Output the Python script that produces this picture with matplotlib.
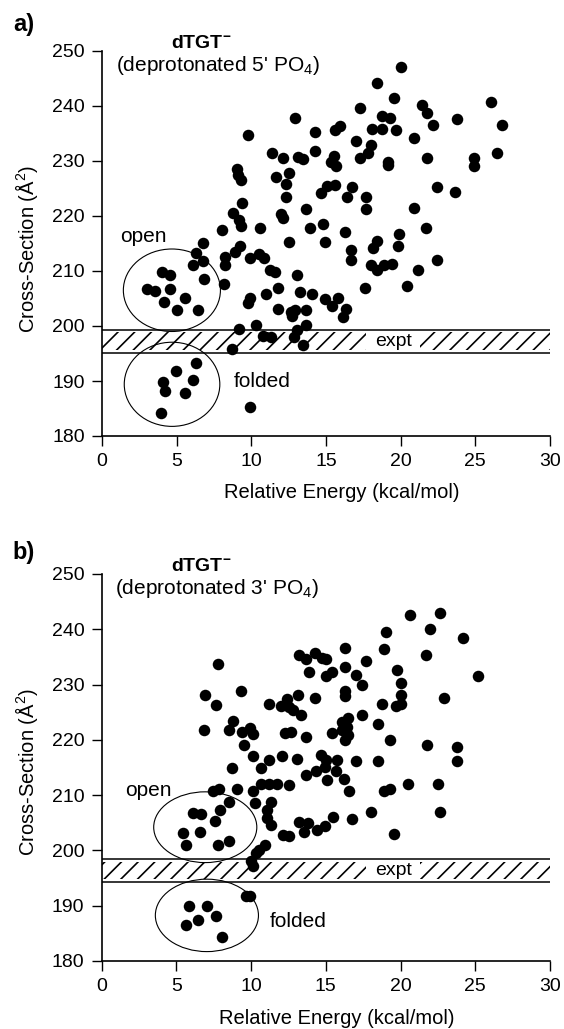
import matplotlib
matplotlib.use("Agg")
import matplotlib.pyplot as plt
from matplotlib.patches import Ellipse

# *** DATA
# panel a) deprotonated 5' PO4
A_X = [12.91, 9.79, 14.27, 11.37, 12.13, 13.13, 13.47, 14.27, 15.35,
       9.01, 9.12, 9.28, 11.62, 12.53, 12.35, 15.07, 14.65, 12.29, 9.38, 13.65,
       8.74, 12.02, 12.13, 9.16, 9.34, 8.05, 10.57, 13.91, 14.8,
       6.78, 12.53, 14.95, 6.29, 6.78, 6.07, 8.27, 8.27, 8.9, 9.23, 9.9, 10.5,
       10.84, 11.24, 11.57, 13.06, 6.82, 8.18, 4.03, 4.55, 3.03, 3.55, 4.55,
       5.55, 4.15, 5.04, 6.4, 11.79, 10.95, 13.29, 14.03, 14.92, 15.4, 9.94,
       9.79, 11.79, 12.64, 12.91, 13.69, 12.73, 13.69, 10.28, 9.16, 13.06,
       10.79, 11.35, 12.84, 13.47, 8.68,
       4.95, 6.29, 4.06, 6.11, 4.21, 5.55, 3.93, 9.94,
       20.0, 18.39, 19.53, 17.26, 21.4, 21.79, 26.07, 18.75, 19.26, 23.79,
       22.16, 26.8, 15.92, 15.63, 18.1, 18.77, 19.67, 20.92, 17.04, 18.02,
       17.79, 15.52, 15.65, 17.26, 19.15, 19.17, 21.79, 24.93, 24.93, 26.44,
       15.59, 16.77, 16.41, 17.66, 17.66, 22.43, 23.66, 20.92, 16.3, 19.89, 21.67,
       18.42, 18.15, 19.82, 16.66, 16.66, 22.43, 18.04, 18.44, 18.86, 19.44,
       21.16, 17.59, 20.42, 15.81, 16.32, 16.14]
A_Y = [237.9, 234.8, 235.3, 231.5, 230.5, 230.8, 230.4, 231.9, 229.9,
       228.5, 227.5, 226.5, 227.1, 227.8, 225.9, 225.5, 224.1, 223.4, 222.3, 221.3,
       220.6, 220.4, 219.6, 219.3, 218.2, 217.5, 217.8, 217.8, 218.5,
       215.0, 215.3, 215.3, 213.3, 211.9, 211.0, 212.6, 211.0, 213.5, 214.5, 212.3, 213.1,
       212.3, 210.1, 209.9, 209.3, 208.5, 207.6, 209.9, 209.3, 206.8, 206.4, 206.8,
       205.1, 204.3, 202.9, 202.9, 206.9, 205.8, 206.2, 205.8, 204.9, 203.6, 205.0,
       204.1, 203.1, 202.6, 202.9, 202.9, 201.8, 200.2, 200.2, 199.4, 199.3,
       198.1, 197.95, 197.95, 196.5, 195.9,
       191.9, 193.2, 189.9, 190.1, 188.1, 187.8, 184.1, 185.3,
       247.1, 244.1, 241.4, 239.7, 240.1, 238.7, 240.7, 238.1, 237.9, 237.6,
       236.6, 236.6, 236.4, 235.6, 235.9, 235.9, 235.6, 234.2, 233.6, 232.9,
       231.5, 230.9, 229.1, 230.5, 229.8, 229.2, 230.5, 230.5, 229.1, 231.5,
       225.6, 225.3, 223.4, 223.4, 221.2, 225.3, 224.3, 221.5, 217.1, 216.7, 217.8,
       215.5, 214.1, 214.5, 213.8, 212.0, 212.0, 211.1, 210.2, 211.1, 211.3,
       210.2, 206.9, 207.2, 205.0, 203.1, 201.7]

# panel b) deprotonated 3' PO4
B_X = [7.77, 13.22, 14.27, 13.67, 14.77, 13.89, 15.0, 6.91, 9.29, 7.67, 13.15,
       14.27, 11.17, 12.4, 12.0, 12.55, 12.82, 13.33, 8.77, 6.82, 8.55, 9.4,
       9.93, 10.15, 12.29, 12.67, 13.67, 9.51, 10.15, 11.17, 12.04, 13.04,
       14.67, 15.04, 10.67, 8.71, 13.67, 14.33, 14.95,
       20.62, 22.62, 19.0, 22.0, 24.15, 16.27, 18.89, 21.73, 15.0, 17.67, 16.27,
       15.44, 17.0, 19.77, 25.15, 17.44, 20.0, 16.27, 16.27, 20.0, 22.89, 20.0,
       19.67, 18.77, 17.4, 16.51, 16.11, 16.44, 15.44, 16.11, 16.51, 16.29,
       18.51, 19.27, 21.78, 23.78, 23.78, 18.51, 17.0, 15.77, 15.7,
       15.1, 7.44, 7.84, 9.07, 10.15, 10.67, 11.22, 11.73, 12.55, 10.27, 11.33,
       8.55, 7.93, 6.11, 6.67, 7.55, 11.07, 11.07, 11.33, 13.22, 13.78, 13.55,
       14.44, 14.95, 12.11, 12.55, 5.44, 6.55, 5.67, 7.77, 8.55, 10.93, 10.55,
       10.33, 10.0, 10.11, 9.67, 9.93,
       5.82, 7.04, 6.44, 7.67, 5.67, 8.04,
       16.22, 16.55, 18.89, 19.29, 20.51, 22.51, 22.67, 18.0, 15.49, 16.73, 19.55]
B_Y = [233.7, 235.4, 235.8, 234.6, 234.8, 232.3, 231.6, 228.2, 228.9, 226.3, 228.2,
       227.6, 226.5, 227.3, 226.2, 226.0, 225.4, 224.5, 223.5, 221.8, 221.8, 221.5,
       222.1, 221.1, 221.2, 221.5, 220.5, 219.1, 217.0, 216.4, 217.0, 216.5,
       217.3, 216.4, 214.9, 214.9, 213.7, 214.3, 215.0,
       242.5, 242.9, 239.5, 240.1, 238.4, 236.7, 236.4, 235.4, 234.6, 234.3, 233.1,
       232.3, 231.7, 232.6, 231.6, 229.9, 230.2, 228.8, 228.0, 228.1, 227.5, 226.5,
       226.1, 226.5, 224.5, 223.9, 223.3, 222.4, 221.2, 221.8, 220.9, 220.0,
       222.8, 220.0, 219.1, 218.7, 216.2, 216.2, 216.1, 216.4, 214.4,
       212.7, 210.8, 211.2, 211.1, 210.8, 212.1, 212.1, 212.1, 211.8, 208.5, 208.8,
       208.8, 207.4, 206.8, 206.5, 205.4, 207.3, 205.8, 204.6, 205.2, 204.9, 203.4,
       203.7, 204.5, 202.8, 202.7, 203.1, 203.4, 201.0, 201.0, 201.7, 201.0, 200.1,
       199.5, 198.0, 197.1, 191.8, 191.8,
       190.0, 190.0, 187.4, 188.2, 186.5, 184.4,
       212.9, 210.8, 210.8, 211.1, 212.1, 212.1, 207.0, 207.0, 206.1, 205.6, 203.0]

# experimental cross-section bands (low, high)
A_EXPT = (195.0, 199.3)
B_EXPT = (194.2, 198.4)

# ellipses: (x centre, y centre, width, height)
A_OPEN = (4.68, 206.5, 6.5, 15.0)
A_FOLDED = (4.69, 189.4, 6.4, 15.3)
B_OPEN = (6.93, 204.2, 6.9, 12.8)
B_FOLDED = (7.04, 188.25, 6.9, 13.1)

X_TICKS = [0, 5, 10, 15, 20, 25, 30]
Y_TICKS = [180, 190, 200, 210, 220, 230, 240, 250]

plt.rcParams['font.family'] = ['Liberation Sans', 'DejaVu Sans']
plt.rcParams['mathtext.fontset'] = 'custom'
plt.rcParams['mathtext.rm'] = 'Liberation Sans'
plt.rcParams['mathtext.it'] = 'Liberation Sans:italic'
plt.rcParams['mathtext.bf'] = 'Liberation Sans:bold'
plt.rcParams['hatch.linewidth'] = 1.2
plt.rcParams['hatch.color'] = 'black'

W, H = 564, 1029


def draw_panel(ax, xs, ys, expt, open_ell, folded_ell, which, open_pos, folded_pos):
  ax.set_xlim(0, 30)
  ax.set_ylim(180, 250)
  ax.set_xticks(X_TICKS)
  ax.set_yticks(Y_TICKS)
  for s in ['top', 'right']:
    ax.spines[s].set_visible(False)
  for s in ['left', 'bottom']:
    ax.spines[s].set_linewidth(1.2)
  ax.tick_params(direction='out', length=7.5, width=1.0, labelsize=14, pad=5)

  # experimental band: hatch kept slightly inside the two border lines
  ax.fill_between([0, 30], expt[0] + 0.65, expt[1] - 0.45, facecolor='none',
                  edgecolor='black', hatch='//', linewidth=0, zorder=2)
  ax.axhline(expt[0], color='black', lw=1.1, zorder=4)
  ax.axhline(expt[1], color='black', lw=1.1, zorder=4)
  ax.text(19.5, (expt[0] + expt[1]) / 2, 'expt', fontsize=14, ha='center', va='center',
          bbox=dict(boxstyle='square,pad=0.45', facecolor='white', edgecolor='none'),
          zorder=3)

  for e in (open_ell, folded_ell):
    ax.add_patch(Ellipse((e[0], e[1]), e[2], e[3], facecolor='none',
                         edgecolor='black', lw=0.8, zorder=3))

  ax.plot(xs, ys, 'o', color='black', ms=8.3, mec='none', zorder=5, clip_on=False)

  ax.text(open_pos[0], open_pos[1], 'open', fontsize=15, ha='left', va='center')
  ax.text(folded_pos[0], folded_pos[1], 'folded', fontsize=15, ha='left', va='center')

  ax.text(6.65, 251.4, r'$\mathbf{dTGT^{-}}$', fontsize=14, ha='center', va='center',
          clip_on=False)
  ax.text(7.74, 247.35, "(deprotonated %s' PO$_4$)" % which, fontsize=15,
          ha='center', va='center')


def main():
  fig = plt.figure(figsize=(W / 100, H / 100), dpi=100)

  ax_a = fig.add_axes([102 / W, 1 - 436 / H, 448 / W, 385 / H])
  ax_b = fig.add_axes([101.7 / W, 1 - 961 / H, 448.3 / W, 387 / H])

  draw_panel(ax_a, A_X, A_Y, A_EXPT, A_OPEN, A_FOLDED, '5', (1.2, 216.2), (8.83, 189.9))
  draw_panel(ax_b, B_X, B_Y, B_EXPT, B_OPEN, B_FOLDED, '3', (1.54, 210.9), (11.24, 187.1))

  # panel letters and axis labels
  fig.text(24 / W, 1 - 25 / H, 'a)', fontsize=17, fontweight='bold', ha='center', va='center')
  fig.text(24 / W, 1 - 552 / H, 'b)', fontsize=17, fontweight='bold', ha='center', va='center')

  for yc in (248.5, 772):
    fig.text(27 / W, 1 - yc / H, 'Cross-Section (Å$^2$)', fontsize=14.5,
             rotation=90, ha='center', va='center')
  for xc, yc in ((342, 493), (337, 1018)):
    fig.text(xc / W, 1 - yc / H, 'Relative Energy (kcal/mol)', fontsize=14.5,
             ha='center', va='center')

  fig.savefig('out.png', dpi=100)


if __name__ == "__main__":
  main()
